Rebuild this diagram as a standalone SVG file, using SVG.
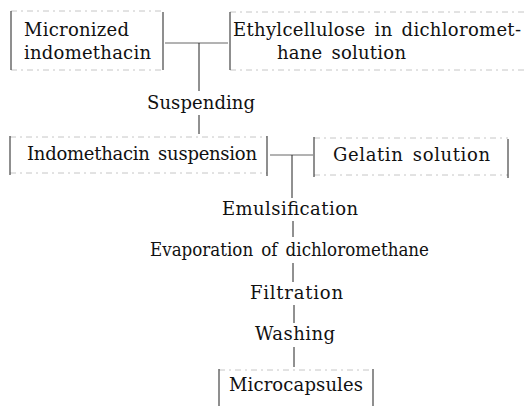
<svg xmlns="http://www.w3.org/2000/svg" width="528" height="406" viewBox="0 0 528 406">
<style>
text{font-family:"DejaVu Serif","Liberation Serif",serif;font-size:18px;fill:#111;word-spacing:3px}
.side{stroke:#333;stroke-width:1.1;fill:none}
.edge{stroke:#b8b8b8;stroke-width:0.8;stroke-dasharray:6 4 2 4;fill:none}
.conn line{stroke:#222;stroke-width:1}
.conn line.h{stroke:#666}
</style>
<rect width="528" height="406" fill="#fff"/>
<g id="micronized">
<line class="edge" x1="11" y1="11" x2="163" y2="11"/><line class="edge" x1="11" y1="70" x2="163" y2="70"/>
<line class="side" x1="11" y1="11" x2="11" y2="70"/><line class="side" x1="163" y1="12" x2="163" y2="70"/>
<text x="24" y="36" textLength="105" lengthAdjust="spacing">Micronized</text>
<text x="24" y="59" textLength="127" lengthAdjust="spacing">indomethacin</text>
</g>
<g id="ethylcellulose">
<line class="edge" x1="230" y1="12" x2="526" y2="12"/><line class="edge" x1="230" y1="70" x2="526" y2="70"/>
<line class="side" x1="230" y1="12" x2="230" y2="70"/>
<text x="233" y="36" textLength="288" lengthAdjust="spacing">Ethylcellulose in dichloromet-</text>
<text x="277" y="59" textLength="129" lengthAdjust="spacing">hane solution</text>
</g>
<g id="suspension">
<line class="edge" x1="10" y1="137" x2="267" y2="137"/><line class="edge" x1="10" y1="173" x2="267" y2="173"/>
<line class="side" x1="10" y1="136" x2="10" y2="175"/><line class="side" x1="267" y1="136" x2="267" y2="176"/>
<text x="27" y="160" textLength="230" lengthAdjust="spacing">Indomethacin suspension</text>
</g>
<g id="gelatin">
<line class="edge" x1="314" y1="138" x2="508" y2="138"/><line class="edge" x1="314" y1="175" x2="508" y2="175"/>
<line class="side" x1="314" y1="137" x2="314" y2="177"/><line class="side" x1="508" y1="139" x2="508" y2="178"/>
<text x="333" y="161" textLength="157" lengthAdjust="spacing">Gelatin solution</text>
</g>
<g id="microcapsules">
<line class="edge" x1="219" y1="370" x2="373" y2="370"/>
<line class="side" x1="219" y1="369" x2="219" y2="406"/><line class="side" x1="373" y1="369" x2="373" y2="406"/>
<text x="229" y="391" textLength="134" lengthAdjust="spacing">Microcapsules</text>
</g>
<g id="steps">
<text x="222" y="109" textLength="108" lengthAdjust="spacing" transform="translate(-75 0)">Suspending</text>
<text x="222" y="215" textLength="136" lengthAdjust="spacing">Emulsification</text>
<text x="150" y="256" textLength="279" lengthAdjust="spacingAndGlyphs">Evaporation of dichloromethane</text>
<text x="250" y="299" textLength="93" lengthAdjust="spacing">Filtration</text>
<text x="255" y="340" textLength="80" lengthAdjust="spacing">Washing</text>
</g>
<g class="conn" id="connectors">
<line class="h" x1="165" y1="43" x2="228" y2="43"/>
<line x1="199" y1="43" x2="199" y2="91"/>
<line x1="199" y1="115" x2="199" y2="134"/>
<line class="h" x1="270" y1="155" x2="313" y2="155"/>
<line x1="292" y1="155" x2="292" y2="198"/>
<line x1="293" y1="221" x2="293" y2="237"/>
<line x1="293" y1="263" x2="293" y2="282"/>
<line x1="294" y1="305" x2="294" y2="323"/>
<line x1="294" y1="347" x2="294" y2="367"/>
</g>
</svg>
